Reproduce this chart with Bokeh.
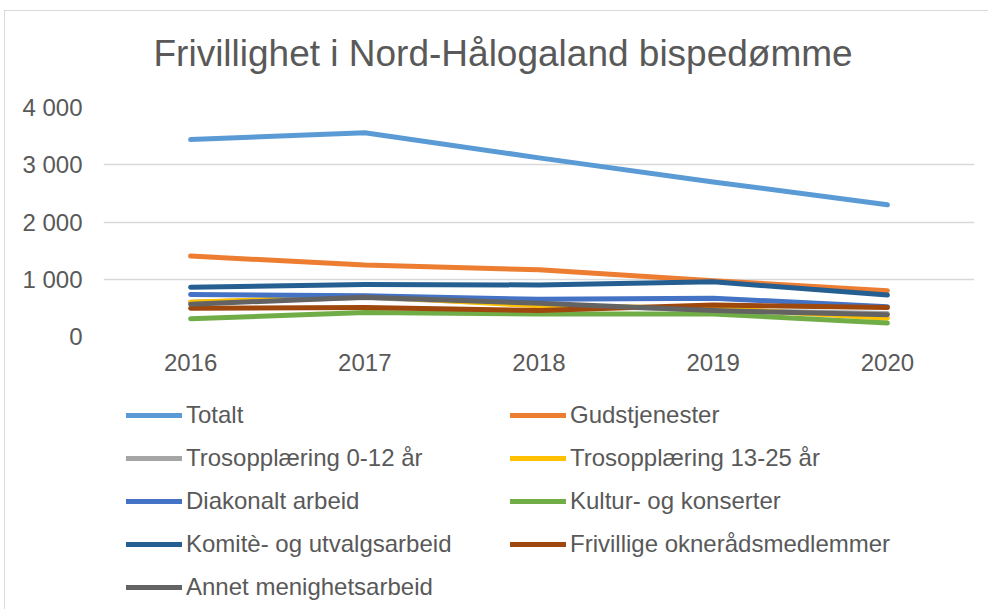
from bokeh.plotting import figure
from bokeh.layouts import column
from bokeh.models import (FactorRange, Range1d, Legend, LegendItem, Label,
                          FixedTicker, CustomJSTickFormatter)
from bokeh.embed import file_html
from bokeh.resources import INLINE

years = ["2016", "2017", "2018", "2019", "2020"]
totalt = [3440, 3560, 3120, 2700, 2300]
gudstjenester = [1405, 1250, 1165, 975, 800]
tros_0_12 = [600, 680, 560, 460, 400]
tros_13_25 = [600, 705, 535, 495, 320]
diakonalt = [735, 710, 650, 670, 520]
kultur = [310, 420, 395, 395, 235]
komite = [860, 910, 900, 955, 725]
frivillige = [495, 505, 455, 550, 505]
annet = [565, 685, 580, 455, 380]

series = [
    ("Totalt", totalt, "#5B9BD5"),
    ("Gudstjenester", gudstjenester, "#ED7D31"),
    ("Trosopplæring 0-12 år", tros_0_12, "#A5A5A5"),
    ("Trosopplæring 13-25 år", tros_13_25, "#FFC000"),
    ("Diakonalt arbeid", diakonalt, "#4472C4"),
    ("Kultur- og konserter", kultur, "#70AD47"),
    ("Komitè- og utvalgsarbeid", komite, "#255E91"),
    ("Frivillige oknerådsmedlemmer", frivillige, "#9E480E"),
    ("Annet menighetsarbeid", annet, "#636363"),
]
title_text = "Frivillighet i Nord-Hålogaland bispedømme"

FONT = "Liberation Sans"
TXT = "#595959"
BORDER = "1px solid #D9D9D9"


def blank(fig):
    fig.axis.visible = False
    fig.grid.visible = False
    fig.outline_line_color = None


# title strip
t_fig = figure(width=984, height=74, x_range=Range1d(0, 1), y_range=Range1d(0, 1),
               output_backend="svg", toolbar_location=None,
               min_border_left=98, min_border_right=16, min_border_top=0,
               min_border_bottom=0,
               styles={"margin-left": "4px", "margin-top": "10px",
                       "border-top": BORDER, "border-left": BORDER})
blank(t_fig)
t_fig.add_layout(Label(x=50, y=32, x_units="screen", y_units="screen",
                       text=title_text, text_font=FONT, text_font_size="37px",
                       text_color=TXT, text_align="left", text_baseline="middle"))

# main chart
p = figure(frame_width=870, frame_height=229, x_range=FactorRange(*years),
           y_range=Range1d(0, 4000), output_backend="svg",
           toolbar_location=None, min_border_left=98, min_border_right=16,
           min_border_top=23, min_border_bottom=42,
           styles={"margin-left": "4px", "border-left": BORDER})
p.outline_line_color = None
p.xgrid.grid_line_color = None
p.ygrid.grid_line_color = "#D9D9D9"
p.ygrid.grid_line_width = 1.5

p.yaxis.ticker = FixedTicker(ticks=[0, 1000, 2000, 3000, 4000])
p.yaxis.formatter = CustomJSTickFormatter(code="return tick == 0 ? '0' : (tick/1000) + ' 000';")
for ax in (p.xaxis, p.yaxis):
    ax.axis_line_color = None
    ax.major_tick_line_color = None
    ax.minor_tick_line_color = None
    ax.major_label_text_font = FONT
    ax.major_label_text_font_size = "24px"
    ax.major_label_text_color = TXT
p.yaxis.major_label_standoff = 15
p.xaxis.major_label_standoff = 11

for name, vals, color in series:
    p.line(years, vals, line_color=color, line_width=5, line_cap="round",
           line_join="round")

# legend strip
leg_fig = figure(width=984, height=231, x_range=Range1d(0, 1), y_range=Range1d(0, 1),
                 output_backend="svg", toolbar_location=None,
                 min_border_left=98, min_border_top=0, min_border_right=16,
                 min_border_bottom=0,
                 styles={"margin-left": "4px", "border-left": BORDER})
blank(leg_fig)

colors = {n: c for n, _, c in series}
order = ["Totalt", "Trosopplæring 0-12 år", "Diakonalt arbeid",
         "Komitè- og utvalgsarbeid", "Annet menighetsarbeid",
         "Gudstjenester", "Trosopplæring 13-25 år", "Kultur- og konserter",
         "Frivillige oknerådsmedlemmer"]
items = []
for n in order:
    # placeholder renderer outside the visible range, used only for the legend key
    r = leg_fig.line(x=[5, 6], y=[5, 6], line_color=colors[n], line_width=5,
                     line_cap="round")
    items.append(LegendItem(label=n, renderers=[r]))
legend = Legend(items=items, location="top_left", orientation="vertical", ncols=2,
                label_text_font=FONT, label_text_font_size="24px",
                label_text_color=TXT, label_width=309, label_height=24,
                glyph_width=56, glyph_height=24, label_standoff=4, spacing=15,
                padding=0, margin=23, border_line_color=None,
                background_fill_alpha=0)
leg_fig.add_layout(legend, "center")

layout = column(t_fig, p, leg_fig, spacing=0)
open("out.html", "w").write(file_html(layout, INLINE))
